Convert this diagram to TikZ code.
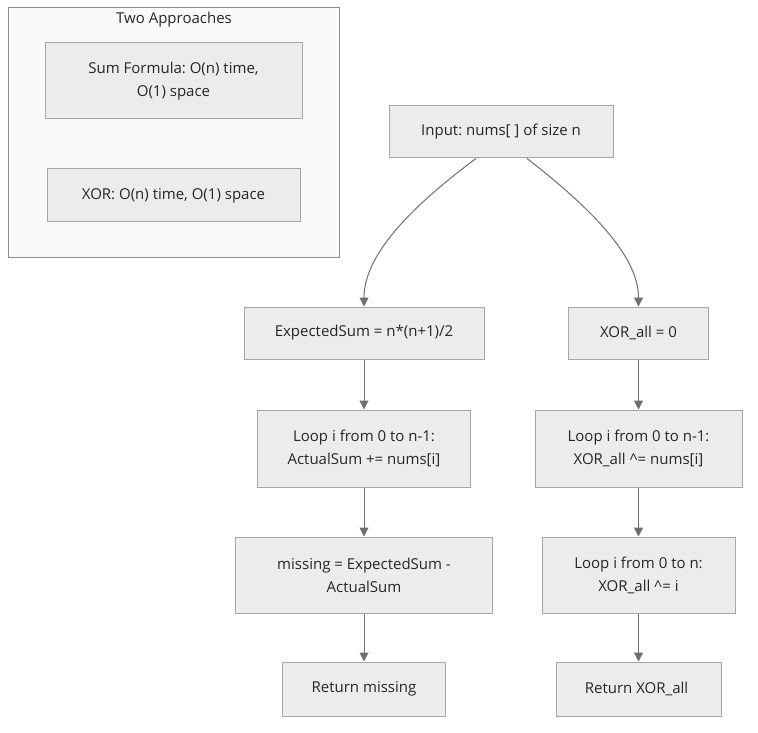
\documentclass[tikz,border=0pt]{standalone}
\usepackage{fontspec}
\setmainfont{Open Sans}
\usetikzlibrary{arrows.meta}
\definecolor{boxfill}{HTML}{ECECEC}
\definecolor{boxline}{HTML}{A6A6A6}
\definecolor{grpfill}{HTML}{FAFAFA}
\definecolor{grpline}{HTML}{8C8C8C}
\definecolor{arrowcol}{HTML}{6E6E6E}
\frenchspacing

\begin{document}
\begin{tikzpicture}[x=0.5pt, y=-0.5pt,
    every node/.style={font=\fontsize{7.5}{11.5}\selectfont, text=black!85},
    stepbox/.style={draw=boxline, fill=boxfill, line width=0.5pt, align=center, inner sep=0pt},
    flow/.style={draw=arrowcol, line width=0.5pt, -{Triangle[length=4.5pt, width=4.5pt]}}]
    \useasboundingbox (0,0) rectangle (758,732);

    % Group box
    \draw[draw=grpline, fill=grpfill, line width=0.5pt] (8,8) rectangle (339,257);
    \node (grptitle) at (174,20) {Two Approaches};
    \node[stepbox, minimum width=128.5pt, minimum height=38pt] (sumnote) at (173.5,81) {Sum Formula: O(n) time,\\O(1) space};
    \node[stepbox, minimum width=126.5pt, minimum height=26.5pt] (xornote) at (173.5,195.5) {XOR: O(n) time, O(1) space};

    % Flow nodes
    \node[stepbox, minimum width=112pt, minimum height=26pt] (input) at (501,132) {Input: nums[ ] of size n};
    \foreach \name/\x/\y/\w/\h/\txt in {
        expsum/364/333/120/26/{ExpectedSum = n*(n+1)/2},
        loopsum/364/448.5/106.5/38.5/{Loop i from 0 to n-1:\\ActualSum += nums[i]},
        missing/364/575/128.5/38/{missing = ExpectedSum -\\ActualSum},
        retmiss/364/689/81.5/27/{Return missing},
        xorinit/638.5/333/70/26/{XOR\_all = 0},
        loopxor/638.5/448.5/103.5/38.5/{Loop i from 0 to n-1:\\XOR\_all \^{}= nums[i]},
        loopn/638.5/575/96.5/38/{Loop i from 0 to n:\\XOR\_all \^{}= i},
        retxor/638.5/689/82.5/27/{Return XOR\_all}
    } {
        \node[stepbox, minimum width=\w pt, minimum height=\h pt] (\name) at (\x,\y) {\txt};
    }

    % Connectors
    \draw[flow] (input.south) ++(-25,0) coordinate (inl) .. controls (400,215) and (364,260) .. (expsum.north);
    \draw[flow] (input.south) ++(26,0) coordinate (inr) .. controls (600,215) and (638.5,260) .. (xorinit.north);
    \foreach \a/\b in {expsum/loopsum, loopsum/missing, missing/retmiss,
                       xorinit/loopxor, loopxor/loopn, loopn/retxor}
        \draw[flow] (\a) -- (\b);
\end{tikzpicture}
\end{document}
